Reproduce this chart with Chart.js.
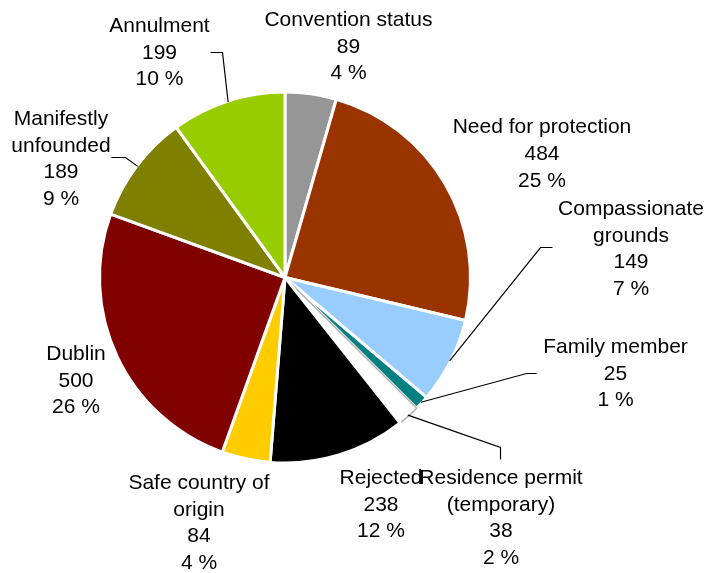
<!DOCTYPE html>
<html>
<head>
<meta charset="utf-8">
<script src="https://cdn.jsdelivr.net/npm/chart.js@4.4.1/dist/chart.umd.min.js"></script>
<style>
  html, body { margin: 0; padding: 0; background: #fff; }
  #wrap { width: 707px; height: 573px; position: relative; }
</style>
</head>
<body>
<div id="wrap"><canvas id="myChart"></canvas></div>
<script>
// data (clockwise from 12 o'clock)
const categories = [
  ['Convention status'],
  ['Need for protection'],
  ['Compassionate', 'grounds'],
  ['Family member'],
  ['Residence permit', '(temporary)'],
  ['Rejected'],
  ['Safe country of', 'origin'],
  ['Dublin'],
  ['Manifestly', 'unfounded'],
  ['Annulment']
];
const values = [89, 484, 149, 25, 38, 238, 84, 500, 189, 199];
const percents = [4, 25, 7, 1, 2, 12, 4, 26, 9, 10]; // as printed on the chart

const colors = ['#969696', '#993300', '#99ccff', '#008080', '#ffffff',
                '#000000', '#ffcc00', '#800000', '#808000', '#99cc00'];

// where each label sits, relative to the pie centre, and leader elbows (null = no leader)
const labelLayout = [
  { dx: 63.5,  dy: -257.5, leader: null },
  { dx: 257,   dy: -150,   leader: null },
  { dx: 346,   dy: -68.5,  leader: [[267, -30.5], [255, -30.5]] },
  { dx: 330.5, dy: 69.5,   leader: [[251, 95.5], [241, 95.5]] },
  { dx: 216,   dy: 200.5,  leader: [[215, 181.5], [215, 169.5]] },
  { dx: 96,    dy: 200.5,  leader: null },
  { dx: -86,   dy: 205.5,  leader: null },
  { dx: -209,  dy: 76.5,   leader: null },
  { dx: -224,  dy: -158.5, leader: [[-174, -120.5], [-160, -120.5]] },
  { dx: -125.5, dy: -251.5, leader: [[-75, -225.5], [-63, -225.5]] }
];
const lineGap = 26.8;

const outsideLabels = {
  id: 'outsideLabels',
  afterDraw(chart) {
    const ctx = chart.ctx;
    const arcs = chart.getDatasetMeta(0).data;
    ctx.save();
    ctx.font = '21px "Liberation Sans", Arial, sans-serif';
    ctx.fillStyle = '#000';
    ctx.textAlign = 'center';
    ctx.textBaseline = 'middle';
    ctx.strokeStyle = '#000';
    ctx.lineWidth = 1.2;
    arcs.forEach((arc, i) => {
      const p = arc.getProps(['x', 'y', 'startAngle', 'endAngle', 'outerRadius'], true);
      const lay = labelLayout[i];
      if (lay.leader) {
        const mid = (p.startAngle + p.endAngle) / 2;
        const r = p.outerRadius - 1;
        const snap = v => Math.round(v) + 0.5;
        ctx.beginPath();
        ctx.moveTo(snap(p.x + lay.leader[0][0]), snap(p.y + lay.leader[0][1]));
        for (let k = 1; k < lay.leader.length; k++) {
          ctx.lineTo(snap(p.x + lay.leader[k][0]), snap(p.y + lay.leader[k][1]));
        }
        ctx.lineTo(p.x + r * Math.cos(mid), p.y + r * Math.sin(mid));
        ctx.stroke();
      }
      const lines = categories[i].concat([String(values[i]), percents[i] + ' %']);
      lines.forEach((t, k) => {
        ctx.fillText(t, p.x + lay.dx, p.y + lay.dy + k * lineGap);
      });
    });
    ctx.restore();
  }
};

const borderColors = colors.map(c => c === '#ffffff' ? '#b0b0b0' : '#ffffff');
const borderWidths = colors.map(c => c === '#ffffff' ? 1.5 : 3);

new Chart(document.getElementById('myChart'), {
  type: 'pie',
  data: {
    labels: categories.map(c => c.join(' ')),
    datasets: [{
      data: values,
      backgroundColor: colors,
      borderColor: borderColors,
      borderWidth: borderWidths
    }]
  },
  options: {
    responsive: true,
    maintainAspectRatio: false,
    animation: false,
    layout: { padding: { left: 98, top: 90.5, right: 235, bottom: 108.5 } },
    plugins: {
      legend: { display: false },
      tooltip: { enabled: false }
    }
  },
  plugins: [outsideLabels]
});
</script>
</body>
</html>
